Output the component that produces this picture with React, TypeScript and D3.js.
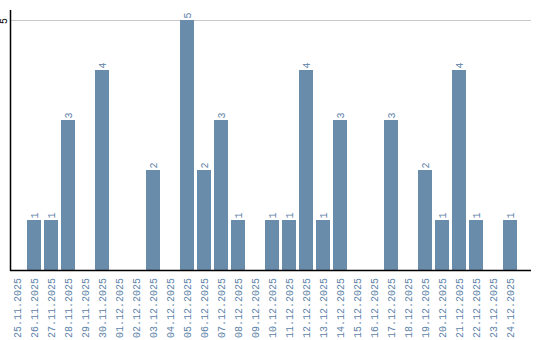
import React from "react";
import * as d3 from "d3";

const categories = [
  "25.11.2025", "26.11.2025", "27.11.2025", "28.11.2025", "29.11.2025", "30.11.2025",
  "01.12.2025", "02.12.2025", "03.12.2025", "04.12.2025", "05.12.2025", "06.12.2025",
  "07.12.2025", "08.12.2025", "09.12.2025", "10.12.2025", "11.12.2025", "12.12.2025",
  "13.12.2025", "14.12.2025", "15.12.2025", "16.12.2025", "17.12.2025", "18.12.2025",
  "19.12.2025", "20.12.2025", "21.12.2025", "22.12.2025", "23.12.2025", "24.12.2025",
];
const values = [0, 1, 1, 3, 0, 4, 0, 0, 2, 0, 5, 2, 3, 1, 0, 1, 1, 4, 1, 3, 0, 0, 3, 0, 2, 1, 4, 1, 0, 1];
const yTicks = [5];

const W = 540;
const H = 340;
const left = 10;
const right = 531;
const top = 10;
const bottom = 270;

export default function App() {
  const x = d3.scaleBand<string>().domain(categories).range([8.5, 518.5]).paddingInner(3 / 17).paddingOuter(1.5 / 17);
  const y = d3.scaleLinear().domain([0, 5]).range([bottom, 20]);
  const mono = "'Liberation Mono', monospace";
  const barColor = "#6a8cab";
  const labelColor = "#5d82a8";
  return (
    <svg width={W} height={H} style={{ position: "absolute", left: 0, top: 0 }}>
      {yTicks.map((t) => (
        <g key={t}>
          <line x1={left} x2={right} y1={y(t) + 0.5} y2={y(t) + 0.5} stroke="#c8c8c8" strokeWidth={1} />
          <text
            transform={`translate(${left - 3},${y(t) + 1}) rotate(-90)`}
            textAnchor="middle"
            fontFamily={mono}
            fontSize={10}
            fill="#000"
          >
            {t}
          </text>
        </g>
      ))}
      {categories.map((c, i) => {
        const v = values[i];
        const bx = x(c)!;
        const bw = x.bandwidth();
        const cx = bx + bw / 2;
        return (
          <g key={c}>
            {v > 0 && <rect x={bx} y={y(v)} width={bw} height={y(0) - y(v)} fill={barColor} />}
            {v > 0 && (
              <text
                transform={`translate(${cx + 3.5},${y(v) - 1.5}) rotate(-90)`}
                textAnchor="start"
                fontFamily={mono}
                fontSize={10}
                fill={labelColor}
              >
                {v}
              </text>
            )}
            <text
              transform={`translate(${cx + 3.5},${bottom + 8}) rotate(-90)`}
              textAnchor="end"
              fontFamily={mono}
              fontSize={10}
              fill={labelColor}
            >
              {c}
            </text>
          </g>
        );
      })}
      <line x1={left + 0.5} x2={left + 0.5} y1={top} y2={bottom + 1} stroke="#000" strokeWidth={1.5} />
      <line x1={left} x2={right} y1={bottom + 0.5} y2={bottom + 0.5} stroke="#000" strokeWidth={1.5} />
    </svg>
  );
}
